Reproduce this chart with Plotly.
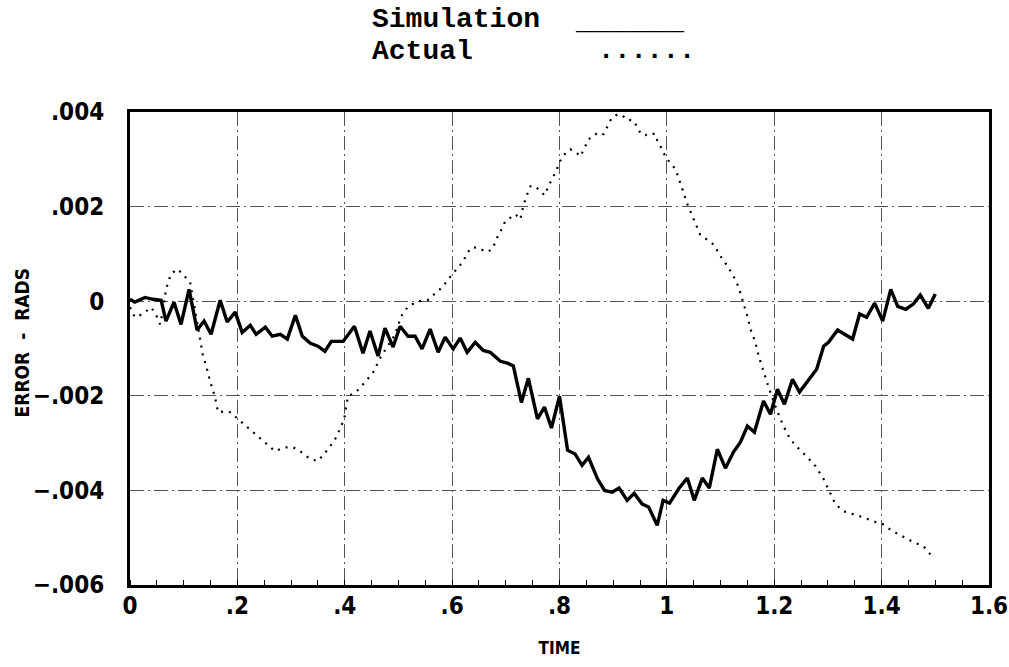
import plotly.graph_objects as go

# Simulation (solid) readings: time, error (rad)
sim_t = [0.000, 0.009, 0.028, 0.043, 0.058, 0.067, 0.082, 0.095, 0.110, 0.125, 0.138, 0.151,
         0.168, 0.181, 0.196, 0.209, 0.224, 0.235, 0.252, 0.265, 0.280, 0.293, 0.308, 0.321,
         0.336, 0.350, 0.363, 0.375, 0.397, 0.418, 0.434, 0.447, 0.462, 0.475, 0.490, 0.503,
         0.518, 0.531, 0.544, 0.559, 0.574, 0.587, 0.602, 0.615, 0.628, 0.643, 0.658, 0.671,
         0.690, 0.703, 0.714, 0.729, 0.742, 0.759, 0.772, 0.785, 0.800, 0.815, 0.829, 0.842,
         0.854, 0.871, 0.884, 0.898, 0.911, 0.926, 0.939, 0.954, 0.966, 0.982, 0.993, 1.005,
         1.023, 1.038, 1.051, 1.066, 1.079, 1.094, 1.109, 1.124, 1.137, 1.150, 1.163, 1.180,
         1.193, 1.206, 1.219, 1.234, 1.247, 1.279, 1.292, 1.301, 1.318, 1.346, 1.359, 1.372,
         1.387, 1.402, 1.417, 1.430, 1.445, 1.459, 1.472, 1.487, 1.500]
sim_err = [0.00004, -0.00002, 0.00008, 0.00004, 0.00002, -0.00042, -0.00002, -0.00049, 0.00025,
           -0.00061, -0.00042, -0.00070, 0.00002, -0.00044, -0.00023, -0.00066, -0.00051, -0.00070,
           -0.00055, -0.00074, -0.00070, -0.00080, -0.00030, -0.00074, -0.00089, -0.00095, -0.00106,
           -0.00085, -0.00085, -0.00053, -0.00110, -0.00063, -0.00116, -0.00057, -0.00097, -0.00053,
           -0.00074, -0.00074, -0.00101, -0.00059, -0.00108, -0.00076, -0.00101, -0.00078, -0.00108,
           -0.00087, -0.00104, -0.00108, -0.00127, -0.00131, -0.00137, -0.00214, -0.00163, -0.00249,
           -0.00224, -0.00268, -0.00201, -0.00315, -0.00323, -0.00347, -0.00330, -0.00376, -0.00400,
           -0.00404, -0.00395, -0.00421, -0.00406, -0.00429, -0.00435, -0.00474, -0.00421, -0.00427,
           -0.00395, -0.00374, -0.00421, -0.00374, -0.00395, -0.00313, -0.00353, -0.00319, -0.00298,
           -0.00264, -0.00277, -0.00211, -0.00239, -0.00186, -0.00218, -0.00165, -0.00192, -0.00144,
           -0.00095, -0.00087, -0.00061, -0.00080, -0.00027, -0.00034, -0.00004, -0.00042, 0.00025,
           -0.00011, -0.00017, -0.00006, 0.00013, -0.00015, 0.00015]

# Actual (dotted) readings
act_t = [0.000, 0.009, 0.024, 0.039, 0.048, 0.056, 0.062, 0.067, 0.076, 0.088, 0.095, 0.112,
         0.121, 0.130, 0.136, 0.142, 0.149, 0.158, 0.164, 0.177, 0.188, 0.201, 0.216, 0.233,
         0.252, 0.270, 0.289, 0.304, 0.319, 0.336, 0.350, 0.369, 0.384, 0.399, 0.406, 0.421,
         0.438, 0.453, 0.468, 0.485, 0.494, 0.505, 0.518, 0.537, 0.554, 0.582, 0.596, 0.619,
         0.634, 0.645, 0.665, 0.675, 0.684, 0.693, 0.699, 0.718, 0.727, 0.731, 0.738, 0.746,
         0.755, 0.772, 0.781, 0.792, 0.800, 0.805, 0.820, 0.829, 0.839, 0.848, 0.854, 0.872,
         0.882, 0.887, 0.897, 0.908, 0.917, 0.926, 0.936, 0.941, 0.947, 0.952, 0.960, 0.969,
         0.979, 0.982, 0.988, 0.993, 1.001, 1.012, 1.018, 1.025, 1.031, 1.036, 1.044, 1.053,
         1.062, 1.087, 1.100, 1.113, 1.124, 1.133, 1.141, 1.150, 1.156, 1.165, 1.171, 1.180,
         1.189, 1.202, 1.217, 1.230, 1.243, 1.262, 1.277, 1.292, 1.301, 1.314, 1.329, 1.348,
         1.366, 1.383, 1.402, 1.420, 1.441, 1.459, 1.478, 1.495]
act_err = [-0.00013, -0.00034, -0.00027, -0.00013, -0.00027, -0.00049, -0.00017, 0.00025, 0.00057,
           0.00068, 0.00061, 0.00040, -0.00017, -0.00074, -0.00116, -0.00137, -0.00169, -0.00201,
           -0.00235, -0.00233, -0.00235, -0.00249, -0.00264, -0.00281, -0.00298, -0.00317, -0.00309,
           -0.00309, -0.00319, -0.00334, -0.00338, -0.00313, -0.00288, -0.00249, -0.00201, -0.00192,
           -0.00171, -0.00150, -0.00116, -0.00087, -0.00070, -0.00032, -0.00011, 0.00000, 0.00002,
           0.00030, 0.00051, 0.00082, 0.00112, 0.00114, 0.00104, 0.00110, 0.00135, 0.00154, 0.00169,
           0.00184, 0.00173, 0.00194, 0.00221, 0.00243, 0.00243, 0.00224, 0.00247, 0.00271, 0.00294,
           0.00306, 0.00321, 0.00317, 0.00306, 0.00328, 0.00342, 0.00357, 0.00353, 0.00364, 0.00387,
           0.00395, 0.00393, 0.00383, 0.00383, 0.00376, 0.00364, 0.00353, 0.00351, 0.00355, 0.00353,
           0.00340, 0.00328, 0.00315, 0.00300, 0.00285, 0.00273, 0.00252, 0.00230, 0.00211, 0.00190,
           0.00167, 0.00141, 0.00120, 0.00095, 0.00074, 0.00053, 0.00032, 0.00004, -0.00032, -0.00060,
           -0.00087, -0.00116, -0.00150, -0.00180, -0.00222, -0.00264, -0.00292, -0.00309, -0.00330,
           -0.00349, -0.00376, -0.00398, -0.00429, -0.00444, -0.00450, -0.00457, -0.00465, -0.00471,
           -0.00486, -0.00499, -0.00509, -0.00518, -0.00541]

x_ticks = [0, 0.2, 0.4, 0.6, 0.8, 1.0, 1.2, 1.4, 1.6]
x_labels = ["0", ".2", ".4", ".6", ".8", "1", "1.2", "1.4", "1.6"]
y_ticks = [0.004, 0.002, 0, -0.002, -0.004, -0.006]
y_labels = [".004", ".002", "0", "\u2212.002", "\u2212.004", "\u2212.006"]

NARROW = "Liberation Sans Narrow, DejaVu Sans Condensed, Arial Narrow, sans-serif"
MONO = "Liberation Mono, DejaVu Sans Mono, monospace"

fig = go.Figure()
fig.add_trace(go.Scatter(x=act_t, y=act_err, mode="lines", name="Actual",
                         line=dict(color="black", width=2.2, dash="2px,6px")))
fig.add_trace(go.Scatter(x=sim_t, y=sim_err, mode="lines", name="Simulation",
                         line=dict(color="black", width=3.4)))

fig.update_layout(
    width=1009, height=667,
    margin=dict(l=130, r=20, t=112, b=82),
    paper_bgcolor="white", plot_bgcolor="white",
    showlegend=False,
    font=dict(family=NARROW, color="black"),
)
fig.update_xaxes(
    range=[0, 1.6], tickvals=x_ticks, ticktext=x_labels, automargin=False,
    tickfont=dict(family=NARROW, size=24, weight="bold"),
    showline=True, linewidth=3, linecolor="black", mirror=True,
    showgrid=True, gridcolor="#555", gridwidth=1, griddash="14px,4px,2px,4px",
    zeroline=False, ticks="", ticklabelstandoff=-3,
    minor=dict(ticks="inside", ticklen=5, tickcolor="black", dtick=0.05, showgrid=False),
    title=dict(text="TIME", font=dict(family=NARROW, size=17, weight="bold"), standoff=24),
)
fig.update_yaxes(
    range=[-0.006, 0.004], tickvals=y_ticks, ticktext=y_labels, automargin=False,
    tickfont=dict(family=NARROW, size=24, weight="bold"),
    showline=True, linewidth=3, linecolor="black", mirror=True,
    showgrid=True, gridcolor="#555", gridwidth=1, griddash="14px,4px,2px,4px",
    zeroline=False, ticks="", ticklabelstandoff=18,
)

# y-axis title as a rotated annotation
fig.add_annotation(text="<b>ERROR  -  RADS</b>", xref="paper", yref="paper",
                   x=-0.1256, y=0.513, xanchor="center", yanchor="middle", textangle=-90,
                   showarrow=False, font=dict(family=NARROW, size=19, color="black"))

# legend block at top (typewriter style)
fig.add_annotation(text="<b>Simulation</b>", xref="paper", yref="paper",
                   x=0.281, y=1.0, yshift=109, xanchor="left", yanchor="top", borderpad=0,
                   showarrow=False, font=dict(family=MONO, size=28, color="black"))
fig.add_annotation(text="<b>Actual</b>", xref="paper", yref="paper",
                   x=0.281, y=1.0, yshift=77, xanchor="left", yanchor="top", borderpad=0,
                   showarrow=False, font=dict(family=MONO, size=28, color="black"))
fig.add_annotation(text="<b>______</b>", xref="paper", yref="paper",
                   x=0.517, y=1.0, yshift=109, xanchor="left", yanchor="top", borderpad=0,
                   showarrow=False, font=dict(family=MONO, size=30, color="black"))
fig.add_annotation(text="<b>......</b>", xref="paper", yref="paper",
                   x=0.544, y=1.0, yshift=77, xanchor="left", yanchor="top", borderpad=0,
                   showarrow=False, font=dict(family=MONO, size=27, color="black"))

fig.write_html("out.html")
